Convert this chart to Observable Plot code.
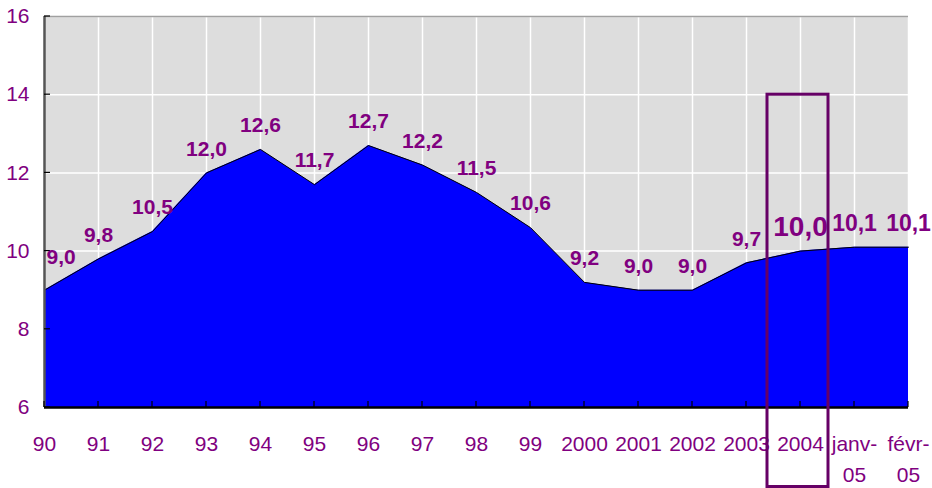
<!DOCTYPE html>
<html><head><meta charset="utf-8">
<script src="https://cdn.jsdelivr.net/npm/d3@7"></script>
<script src="https://cdn.jsdelivr.net/npm/@observablehq/plot@0.6"></script>
<style>
body{margin:0;background:#fff;}
</style>
</head><body>
<div id="chart"></div>
<script>
const categories = ["90","91","92","93","94","95","96","97","98","99","2000","2001","2002","2003","2004","janv-\n05","févr-\n05"];
const values = [9.0, 9.8, 10.5, 12.0, 12.6, 11.7, 12.7, 12.2, 11.5, 10.6, 9.2, 9.0, 9.0, 9.7, 10.0, 10.1, 10.1];
const yTicks = [6, 8, 10, 12, 14, 16];
const highlight = "2004";
const highlightTop = 14;

const data = categories.map((c, i) => ({cat: c, v: values[i], i}));
const purple = "#800080";
const font = "'Liberation Sans', Arial, sans-serif";
const fmt = v => d3.format(".1f")(v).replace(".", ",");
const labelSize = d => d.cat === highlight ? 28 : (d.i > 14 ? 23 : 21);

const chart = Plot.plot({
  width: 932, height: 488,
  marginLeft: 44, marginRight: 24, marginTop: 16, marginBottom: 81,
  style: {fontFamily: font, background: "#fff", overflow: "visible"},
  x: {type: "point", domain: categories, padding: 0, axis: null},
  y: {domain: [6, 16], axis: null},
  marks: [
    Plot.frame({fill: "#dddddd", stroke: null}),
    Plot.gridX(categories, {x: d => d, stroke: "#fff", strokeOpacity: 1, strokeWidth: 1.5}),
    Plot.gridY(yTicks, {y: d => d, stroke: "#fff", strokeOpacity: 1, strokeWidth: 1.5}),
    Plot.ruleY([16], {stroke: "#a0a0a0", strokeWidth: 1.5}),
    Plot.areaY(data, {x: "cat", y1: 6, y2: "v", fill: "#0000ff", curve: "linear"}),
    Plot.line(data, {x: "cat", y: "v", stroke: "#000", strokeWidth: 1}),
    Plot.ruleX([categories[0]], {x: d => d, stroke: "#555", strokeWidth: 2.5}),
    Plot.ruleY([6], {y: d => d, stroke: "#000", strokeWidth: 2.5}),
    // y ticks (inside, pointing right)
    Plot.ruleY(yTicks, {y: d => d,
      render: (index, scales, values, dims) => {
        const g = d3.create("svg:g");
        for (const t of yTicks) {
          const y = scales.y(t);
          g.append("line").attr("x1", dims.marginLeft).attr("x2", dims.marginLeft + 6)
            .attr("y1", y).attr("y2", y).attr("stroke", "#000").attr("stroke-width", 1.2);
        }
        return g.node();
      }}),
    // x ticks (inside, pointing up)
    Plot.ruleX(categories, {x: d => d,
      render: (index, scales, values, dims) => {
        const g = d3.create("svg:g");
        const yb = dims.height - dims.marginBottom;
        for (const c of categories) {
          const x = scales.x(c);
          g.append("line").attr("x1", x).attr("x2", x).attr("y1", yb).attr("y2", yb - 6)
            .attr("stroke", "#000").attr("stroke-width", 1.2);
        }
        return g.node();
      }}),
    // y tick labels
    Plot.text(yTicks, {y: d => d, frameAnchor: "left", dx: -15, textAnchor: "end",
      text: d => String(d), fill: purple, fontSize: 21}),
    // x tick labels
    Plot.text(categories, {x: d => d, frameAnchor: "bottom", dy: 22, lineAnchor: "top",
      lineHeight: 1.45, text: d => d, fill: purple, fontSize: 21}),
    // data labels
    Plot.text(data.slice(0, 1), {x: "cat", y: "v", text: d => fmt(d.v), fill: purple, fontWeight: "bold",
      fontSize: 21, lineAnchor: "middle", dy: -33, dx: 2, textAnchor: "start"}),
    Plot.text(data.slice(1), {x: "cat", y: "v", text: d => fmt(d.v), fill: purple, fontWeight: "bold",
      fontSize: labelSize, lineAnchor: "middle", dy: -24, textAnchor: "middle"}),
    // highlight rectangle
    Plot.ruleX([highlight], {x: d => d,
      render: (index, scales, values, dims) => {
        const x = scales.x(highlight);
        const y = scales.y(highlightTop);
        return d3.create("svg:rect").attr("x", x - 33).attr("y", y)
          .attr("width", 61).attr("height", dims.height - y - 1.5)
          .attr("fill", "none").attr("stroke", "#660066").attr("stroke-width", 3).node();
      }})
  ]
});
document.getElementById("chart").appendChild(chart);
</script>
</body></html>
